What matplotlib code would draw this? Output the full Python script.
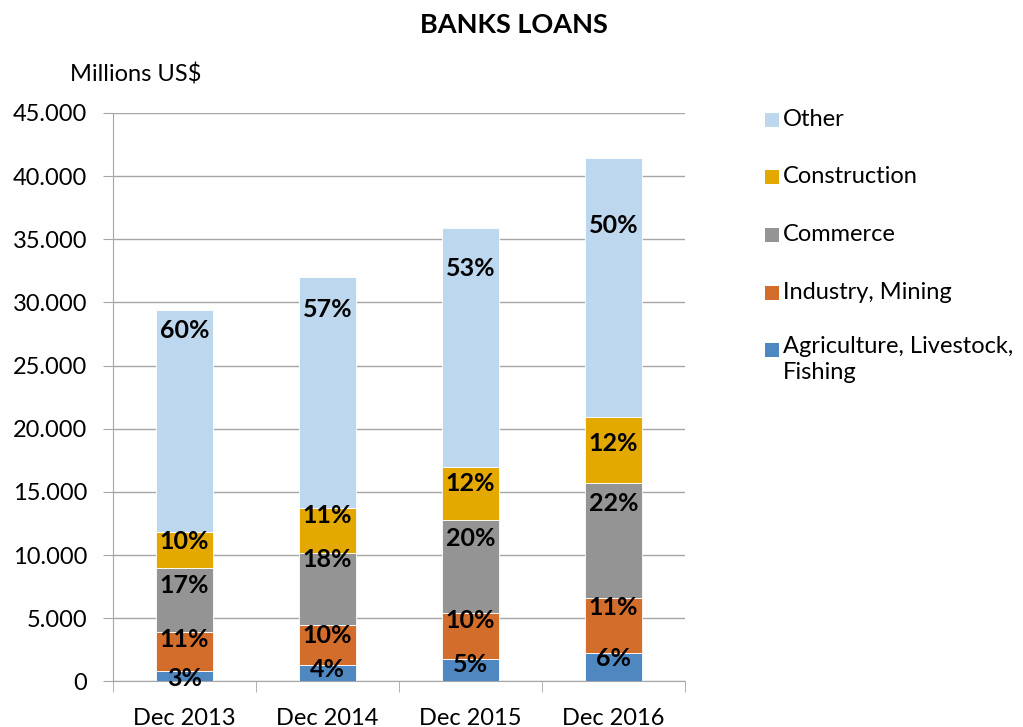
import matplotlib.pyplot as plt
import matplotlib.ticker as mticker
from matplotlib.patches import Rectangle
import numpy as np

plt.rcParams['font.family'] = ['Lato', 'DejaVu Sans']

# ===== Data (millions US$) =====
periods = ['Dec 2013', 'Dec 2014', 'Dec 2015', 'Dec 2016']
series = ['Agriculture, Livestock,\nFishing', 'Industry, Mining', 'Commerce', 'Construction', 'Other']
agriculture = [800, 1300, 1750, 2250]
industry = [3150, 3150, 3700, 4350]
commerce = [5000, 5700, 7350, 9100]
construction = [2900, 3550, 4200, 5200]
other = [17550, 18300, 18900, 20500]

# share labels as printed on the chart
pct_agriculture = ['3%', '4%', '5%', '6%']
pct_industry = ['11%', '10%', '10%', '11%']
pct_commerce = ['17%', '18%', '20%', '22%']
pct_construction = ['10%', '11%', '12%', '12%']
pct_other = ['60%', '57%', '53%', '50%']

# label anchor heights (data units) as placed in the original chart
lab_y_agriculture = [250, 920, 1320, 1820]
lab_y_industry = [3290, 3660, 4790, 5840]
lab_y_commerce = [7600, 9660, 11290, 14100]
lab_y_construction = [11100, 13160, 15660, 18800]
lab_y_other = [27760, 29420, 32660, 36060]

colors = ['#4f87c0', '#d36d2b', '#949494', '#e3a900', '#bdd7ee']

values = [agriculture, industry, commerce, construction, other]
pcts = [pct_agriculture, pct_industry, pct_commerce, pct_construction, pct_other]
lab_ys = [lab_y_agriculture, lab_y_industry, lab_y_commerce, lab_y_construction, lab_y_other]

# ===== Plot =====
fig = plt.figure(figsize=(10.23, 7.27), dpi=100)
ax = fig.add_axes([0.1105, 0.0626, 0.559, 0.782])

x = np.arange(len(periods))
bottom = np.zeros(len(periods))
for vals, color in zip(values, colors):
    ax.bar(x, vals, 0.4, bottom=bottom, color=color, edgecolor='white', linewidth=0.6, zorder=3)
    bottom += np.array(vals)

for labs, ys in zip(pcts, lab_ys):
    for xi, (lab, yv) in enumerate(zip(labs, ys)):
        ax.text(xi, yv, lab, ha='center', va='center', fontsize=18, fontweight='bold', color='black', zorder=4)

ax.set_xlim(-0.5, 3.5)
ax.set_ylim(0, 45000)
ax.yaxis.set_major_locator(mticker.MultipleLocator(5000))
ax.yaxis.set_major_formatter(mticker.FuncFormatter(lambda v, p: f'{int(v):,}'.replace(',', '.')))
ax.set_xticks(x)
ax.set_xticklabels(periods)
ax.set_xticks(np.arange(-0.5, 4.0, 1.0), minor=True)
ax.tick_params(axis='x', which='major', length=0, pad=19, labelsize=17)
ax.tick_params(axis='x', which='minor', length=8, color='#a6a6a6')
ax.tick_params(axis='y', length=7, color='#a6a6a6', labelsize=17, pad=11.5)

ax.grid(axis='y', color='#a6a6a6', linewidth=1, zorder=0)
for s in ['top', 'right']:
    ax.spines[s].set_visible(False)
ax.spines['left'].set_color('#a6a6a6')
ax.spines['bottom'].set_color('#a6a6a6')

fig.text(0.5025, 0.966, 'BANKS LOANS', ha='center', va='center', fontsize=19.5, fontweight='bold')
fig.text(0.0685, 0.897, 'Millions US$', ha='left', va='center', fontsize=17)

# legend, top entry first
leg_y = [0.836, 0.757, 0.677, 0.598, 0.519]
for name, color, yy in zip(series[::-1], colors[::-1], leg_y):
    fig.patches.append(Rectangle((0.7478, yy - 0.0105), 0.0137, 0.0193, transform=fig.transFigure,
                                 facecolor=color, edgecolor='none'))
    fig.text(0.7653, yy, name, ha='left', va='top' if '\n' in name else 'center',
             fontsize=17, linespacing=1.3)
    if '\n' in name:
        fig.texts[-1].set_y(yy + 0.019)

fig.savefig('out.png', dpi=100)
